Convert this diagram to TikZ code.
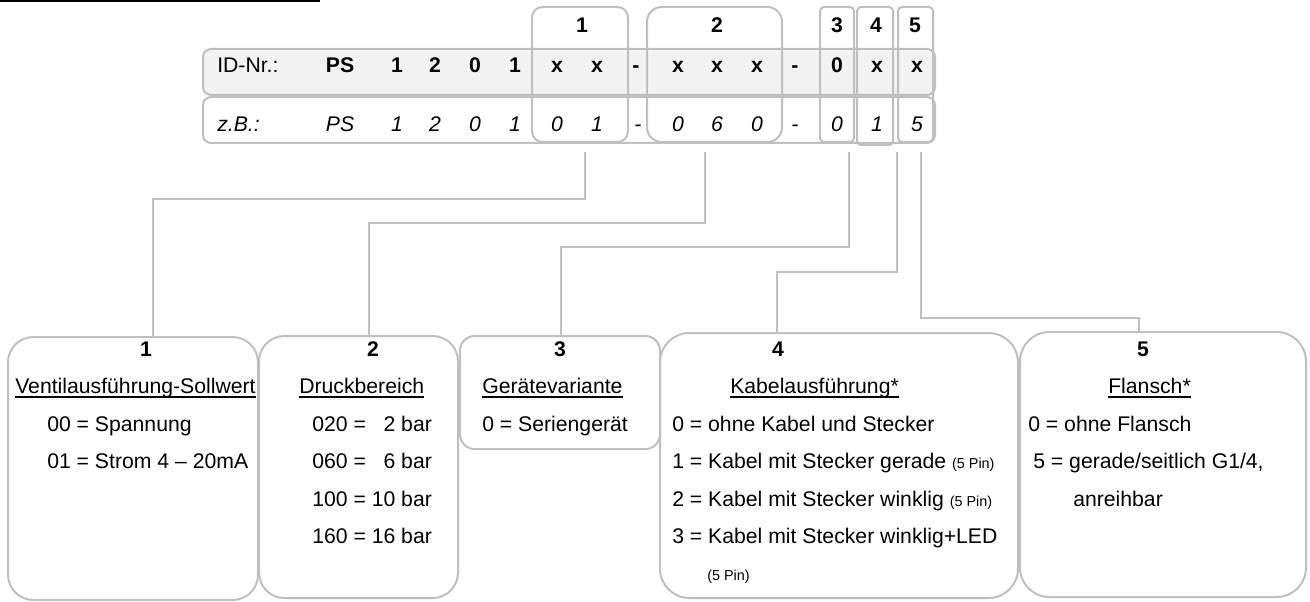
\documentclass[tikz,border=0pt]{standalone}
\usepackage{fontspec}
\setmainfont{Liberation Sans}
\usetikzlibrary{fit}
\definecolor{lgray}{HTML}{BFBFBF}
\definecolor{rowfill}{HTML}{F2F2F2}
\newcommand\fsz{\fontsize{15.9}{19}\selectfont}
\newcommand\fsmall{\fontsize{10.8}{13}\selectfont}
\begin{document}
\begin{tikzpicture}[x=0.75pt,y=-0.75pt,
  frame/.style={draw=lgray, line width=1.5pt, inner sep=0pt},
  conn/.style={draw=lgray, line width=1.5pt},
  txt/.style={inner sep=0pt, anchor=base west, font=\fsz},
  btxt/.style={inner sep=0pt, anchor=base, font=\fsz\bfseries},
  itxt/.style={inner sep=0pt, anchor=base, font=\fsz\itshape},
  ul/.style={draw=black, line width=1pt}
]
\useasboundingbox (0,0) rectangle (1310,602);

% top black rule
\coordinate (r0) at (0,1.2);
\coordinate (r1) at (320,1.2);
\draw[line width=1.8pt] (r0) -- (r1);

% table rows
\node[frame, fill=rowfill, rounded corners=6pt, fit={(203,49) (935,95)}] (row1) {};
\node[frame, fill=white, rounded corners=6pt, fit={(203,97) (935,143)}] (row2) {};

% column group boxes
\node[frame, rounded corners=8pt, fit={(532,7) (628,142)}] (col1) {};
\node[frame, rounded corners=11pt, fit={(647,7) (782,142)}] (col2) {};
\node[frame, rounded corners=3pt, fit={(820,7) (854,142)}] (col3) {};
\node[frame, rounded corners=3pt, fit={(857,7) (893,145)}] (col4) {};
\node[frame, rounded corners=3pt, fit={(898,7) (933,142)}] (col5) {};

% header numbers
\node[btxt] (h1) at (582,33) {1};
\node[btxt] (h2) at (717,33) {2};
\node[btxt] (h3) at (837,33) {3};
\node[btxt] (h4) at (876,33) {4};
\node[btxt] (h5) at (915,33) {5};

% row 1
\node[txt] (idnr) at (217,73) {ID-Nr.:};
\foreach \x/\t/\n in {340/PS/a, 397/1/b, 435/2/c, 475/0/d, 515/1/e, 557/x/f, 597/x/g, 636/-/h, 678/x/i, 717/x/j, 757/x/k, 795/-/l, 837/0/m, 877/x/n, 917/x/o}
  \node[btxt] (ra\n) at (\x,73) {\t};

% row 2
\node[txt, font=\fsz\itshape] (zb) at (217,132) {z.B.:};
\foreach \x/\t/\n in {340/PS/a, 397/1/b, 435/2/c, 475/0/d, 515/1/e, 557/0/f, 597/1/g, 638/-/h, 678/0/i, 717/6/j, 757/0/k, 795/-/l, 837/0/m, 877/1/n, 917/5/o}
  \node[itxt] (rb\n) at (\x,132) {\t};

% lower boxes
\node[frame, rounded corners=19pt, fit={(8,337) (258,600)}] (b1) {};
\node[frame, rounded corners=19pt, fit={(259,336) (458,598)}] (b2) {};
\node[frame, rounded corners=11pt, fit={(460,336) (660,449)}] (b3) {};
\node[frame, rounded corners=22pt, fit={(660,333) (1018,598)}] (b4) {};
\node[frame, rounded corners=22pt, fit={(1020,332) (1306,597)}] (b5) {};

% box numbers
\node[btxt] (n1) at (146,356) {1};
\node[btxt] (n2) at (373,356) {2};
\node[btxt] (n3) at (560,356) {3};
\node[btxt] (n4) at (778,356) {4};
\node[btxt] (n5) at (1143,356) {5};

% titles
\node[txt] (t1) at (15,393) {Ventilausführung-Sollwert};
\node[txt] (t2) at (299,393) {Druckbereich};
\node[txt] (t3) at (482,393) {Gerätevariante};
\node[txt] (t4) at (730,393) {Kabelausführung*};
\node[txt] (t5) at (1108,393) {Flansch*};
\foreach \n in {t1,t2,t3,t4,t5}
  \draw[ul] ([yshift=-3pt]\n.base west) -- ([yshift=-3pt]\n.base east);

% box 1 items
\node[txt] (i11) at (47,431) {00 = Spannung};
\node[txt] (i12) at (47,468) {01 = Strom 4 – 20mA};
% box 2 items
\node[txt] (i21) at (312,431) {020 = \phantom{1}2 bar};
\node[txt] (i22) at (312,468) {060 = \phantom{1}6 bar};
\node[txt] (i23) at (312,506) {100 = 10 bar};
\node[txt] (i24) at (312,543) {160 = 16 bar};
% box 3 items
\node[txt] (i31) at (482,431) {0 = Seriengerät};
% box 4 items
\node[txt] (i41) at (672,431) {0 = ohne Kabel und Stecker};
\node[txt] (i42) at (672,468) {1 = Kabel mit Stecker gerade {\fsmall(5 Pin)}};
\node[txt] (i43) at (672,506) {2 = Kabel mit Stecker winklig {\fsmall(5 Pin)}};
\node[txt] (i44) at (672,543) {3 = Kabel mit Stecker winklig+LED};
\node[txt, font=\fsmall] (i45) at (707,580) {(5 Pin)};
% box 5 items
\node[txt] (i51) at (1028,431) {0 = ohne Flansch};
\node[txt] (i52) at (1033,468) {5 = gerade/seitlich G1/4,};
\node[txt] (i53) at (1073,506) {anreihbar};

% connectors
\coordinate (c1s) at (585,152); \coordinate (c1k) at (153,199);
\coordinate (c2s) at (705,152); \coordinate (c2k) at (369,223);
\coordinate (c3s) at (849,152); \coordinate (c3k) at (561,247);
\coordinate (c4s) at (897,152); \coordinate (c4k) at (777,272);
\coordinate (c5s) at (921,152); \coordinate (c5k) at (1139,318);
\draw[conn] (c1s) |- (c1k) -- (c1k |- b1.north);
\draw[conn] (c2s) |- (c2k) -- (c2k |- b2.north);
\draw[conn] (c3s) |- (c3k) -- (c3k |- b3.north);
\draw[conn] (c4s) |- (c4k) -- (c4k |- b4.north);
\draw[conn] (c5s) |- (c5k) -- (c5k |- b5.north);
\end{tikzpicture}
\end{document}
